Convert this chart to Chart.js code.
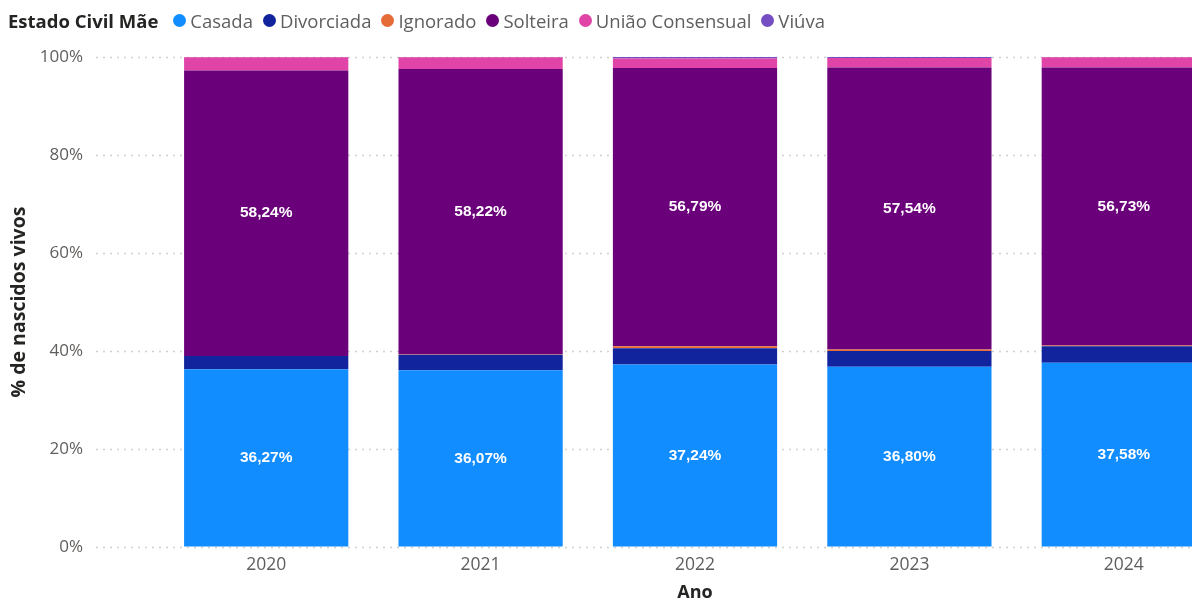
<!DOCTYPE html>
<html>
<head>
<meta charset="utf-8">
<script src="https://cdn.jsdelivr.net/npm/chart.js@4/dist/chart.umd.min.js"></script>
<style>
  html, body { margin: 0; padding: 0; background: #fff; overflow: hidden; width: 1192px; height: 599px; }
  #wrap { position: relative; width: 1240px; height: 599px; }
  #legend { position: absolute; top: 8px; left: 8px; display: flex; align-items: center;
            font-family: "Open Sans", sans-serif; font-size: 18.5px; color: #605E5C; white-space: nowrap; }
  #legend .ttl { font-weight: bold; color: #252423; margin-right: 15px; font-size: 18.5px; }
  #legend .item { display: flex; align-items: center; margin-right: 10px; }
  #legend .dot { width: 13px; height: 13px; border-radius: 50%; margin-right: 4px; }
</style>
</head>
<body>
<div id="wrap">
  <div id="legend"><span class="ttl">Estado Civil Mãe</span></div>
  <canvas id="myChart" width="1240" height="599"></canvas>
</div>
<script>
// data (percent of live births)
const anos = ['2020', '2021', '2022', '2023', '2024'];
const casada = [36.27, 36.07, 37.24, 36.80, 37.58];
const divorciada = [2.71, 3.15, 3.33, 3.22, 3.40];
const ignorado = [0.02, 0.10, 0.40, 0.30, 0.15];
const solteira = [58.24, 58.22, 56.79, 57.54, 56.73];
const uniao = [2.70, 2.40, 1.95, 1.95, 2.08];
const viuva = [0.06, 0.06, 0.29, 0.19, 0.06];
const yTicks = [0, 20, 40, 60, 80, 100];

const series = [
    { label: 'Casada', data: casada, color: '#118DFF', showLabel: true },
    { label: 'Divorciada', data: divorciada, color: '#12239E' },
    { label: 'Ignorado', data: ignorado, color: '#E66C37' },
    { label: 'Solteira', data: solteira, color: '#6B007B', showLabel: true },
    { label: 'União Consensual', data: uniao, color: '#E044A7' },
    { label: 'Viúva', data: viuva, color: '#744EC2' }
];

// html legend
const legendEl = document.getElementById('legend');
series.forEach(function (s) {
    const item = document.createElement('span');
    item.className = 'item';
    item.innerHTML = '<span class="dot" style="background:' + s.color + '"></span>' + s.label;
    legendEl.appendChild(item);
});

const fmt = v => v.toFixed(2).replace('.', ',') + '%';

// dotted grid lines that start left of the first bar
const dottedGrid = {
    id: 'dottedGrid',
    beforeDatasetsDraw(chart) {
        const ctx = chart.ctx, y = chart.scales.y;
        ctx.save();
        ctx.strokeStyle = '#D2D0CE';
        ctx.lineWidth = 1.5;
        ctx.setLineDash([2, 5]);
        yTicks.forEach(function (t) {
            const py = Math.round(y.getPixelForValue(t)) + 0.5;
            ctx.beginPath();
            ctx.moveTo(96, py);
            ctx.lineTo(chart.width, py);
            ctx.stroke();
        });
        ctx.restore();
    }
};

// white value labels on Casada / Solteira
const segLabels = {
    id: 'segLabels',
    afterDatasetsDraw(chart) {
        const ctx = chart.ctx;
        ctx.save();
        ctx.fillStyle = '#fff';
        ctx.font = 'bold 15.5px "Liberation Sans", Arial, sans-serif';
        ctx.textAlign = 'center';
        ctx.textBaseline = 'middle';
        chart.data.datasets.forEach(function (ds, i) {
            if (!series[i].showLabel) return;
            chart.getDatasetMeta(i).data.forEach(function (bar, j) {
                const cy = (bar.y + bar.base) / 2;
                ctx.fillText(fmt(ds.data[j]), bar.x, cy);
            });
        });
        ctx.restore();
    }
};

new Chart(document.getElementById('myChart'), {
    type: 'bar',
    data: {
        labels: anos,
        datasets: series.map(s => ({
            label: s.label,
            data: s.data,
            backgroundColor: s.color,
            borderWidth: 0,
            categoryPercentage: 1,
            barPercentage: 0.766
        }))
    },
    options: {
        responsive: false,
        animation: false,
        layout: { padding: { left: 0, right: 9, top: 57, bottom: 0 } },
        plugins: { legend: { display: false }, tooltip: { enabled: false } },
        scales: {
            x: {
                stacked: true,
                grid: { display: false, drawTicks: false },
                border: { display: false },
                ticks: { color: '#605E5C', font: { family: '"Open Sans", sans-serif', size: 17.5 }, padding: 8 },
                title: { display: true, text: 'Ano', color: '#252423',
                         font: { family: '"Open Sans", sans-serif', size: 18, weight: 'bold', lineHeight: 1 },
                         padding: { top: 4, bottom: -3 } },
                afterFit(scale) { scale.height = 52; }
            },
            y: {
                stacked: true,
                min: 0,
                max: 100,
                afterBuildTicks(scale) { scale.ticks = yTicks.map(v => ({ value: v })); },
                grid: { display: true, drawOnChartArea: false, drawTicks: true, tickLength: 70,
                        color: 'rgba(0,0,0,0)' },
                border: { display: false },
                ticks: { color: '#605E5C', font: { family: '"Open Sans", sans-serif', size: 17 }, padding: 6,
                         callback: v => v + '%' },
                title: { display: true, text: '% de nascidos vivos', color: '#252423',
                         font: { family: '"Open Sans", sans-serif', size: 19.5, weight: 'bold' },
                         padding: { top: 8, bottom: 0 } },
                afterFit(scale) { scale.width = 159; }
            }
        }
    },
    plugins: [dottedGrid, segLabels]
});
</script>
</body>
</html>
